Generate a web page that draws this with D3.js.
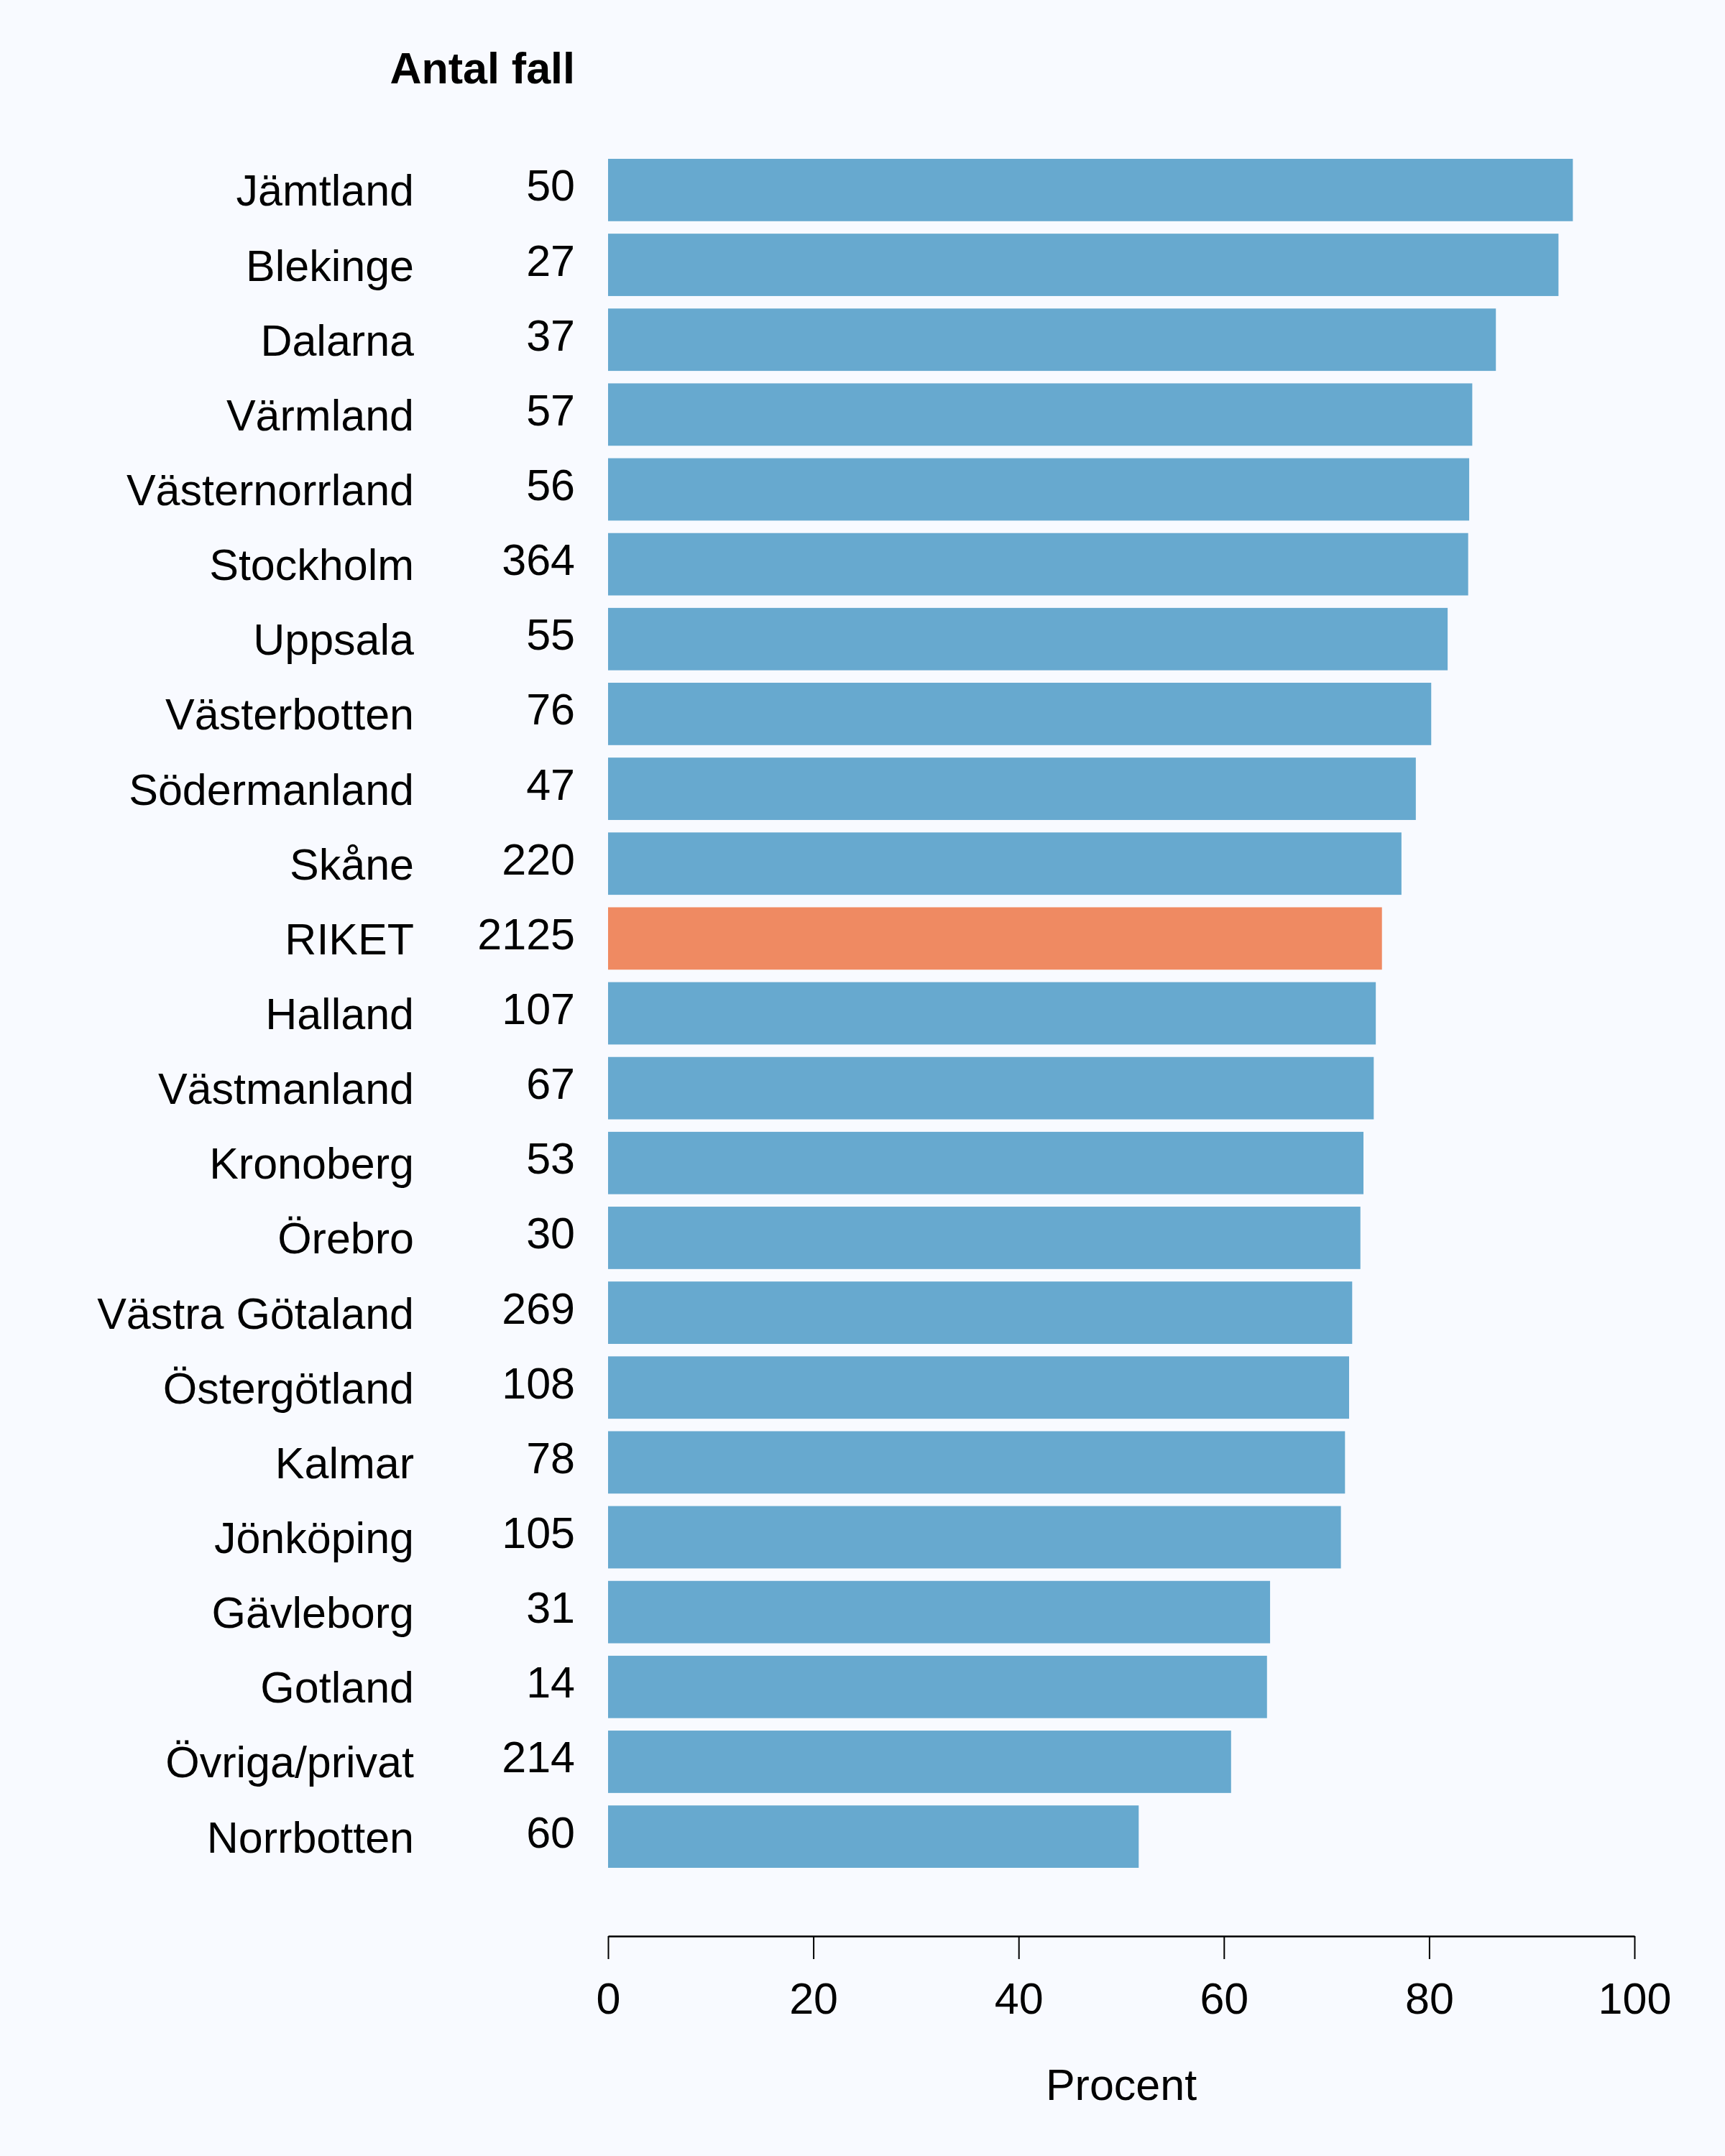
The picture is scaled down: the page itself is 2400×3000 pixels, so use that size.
<!DOCTYPE html>
<html>
<head>
<meta charset="utf-8">
<script src="https://cdn.jsdelivr.net/npm/d3@7"></script>
<style>
  html, body { margin: 0; padding: 0; background: #F8FAFF; }
  svg { display: block; }
  text { font-family: "Liberation Sans", Arial, Helvetica, sans-serif; fill: #000; }
</style>
</head>
<body>
<script>
const regions = ["Jämtland","Blekinge","Dalarna","Värmland","Västernorrland","Stockholm","Uppsala","Västerbotten","Södermanland","Skåne","RIKET","Halland","Västmanland","Kronoberg","Örebro","Västra Götaland","Östergötland","Kalmar","Jönköping","Gävleborg","Gotland","Övriga/privat","Norrbotten"];
const percent = [94.0, 92.6, 86.5, 84.2, 83.9, 83.8, 81.8, 80.2, 78.7, 77.3, 75.4, 74.8, 74.6, 73.6, 73.3, 72.5, 72.2, 71.8, 71.4, 64.5, 64.2, 60.7, 51.7];
const counts = [50, 27, 37, 57, 56, 364, 55, 76, 47, 220, 2125, 107, 67, 53, 30, 269, 108, 78, 105, 31, 14, 214, 60];
const xTicks = [0, 20, 40, 60, 80, 100];
const highlight = "RIKET";

const W = 2400, H = 3000;
const FS = 61;
const svg = d3.select("body").append("svg").attr("width", W).attr("height", H);
svg.append("rect").attr("width", W).attr("height", H).attr("fill", "#F8FAFF");

const x = d3.scaleLinear().domain([0, 100]).range([846, 2274]);
const y = d3.scaleBand().domain(regions).range([221, 2599]).paddingInner(1/6).paddingOuter(0);

const data = regions.map((r, i) => ({ region: r, pct: percent[i], n: counts[i] }));

svg.append("g").selectAll("rect").data(data).join("rect")
  .attr("x", x(0))
  .attr("y", d => y(d.region))
  .attr("width", d => x(d.pct) - x(0))
  .attr("height", y.bandwidth())
  .attr("fill", d => d.region === highlight ? "#EF8A62" : "#67A9CF");

// region names
svg.append("g").selectAll("text").data(data).join("text")
  .attr("x", 576)
  .attr("y", d => y(d.region) + y.bandwidth() / 2 + 22)
  .attr("text-anchor", "end")
  .attr("font-size", FS)
  .text(d => d.region);

// counts
svg.append("g").selectAll("text").data(data).join("text")
  .attr("x", 800)
  .attr("y", d => y(d.region) + y.bandwidth() / 2 + 15)
  .attr("text-anchor", "end")
  .attr("font-size", FS)
  .text(d => d.n);

svg.append("text")
  .attr("x", 800).attr("y", 116)
  .attr("text-anchor", "end")
  .attr("font-size", FS)
  .attr("font-weight", "bold")
  .text("Antal fall");

// x axis
const axisY = 2694;
const axis = d3.axisBottom(x).tickValues(xTicks).tickSize(32).tickSizeOuter(0).tickPadding(33).tickFormat(d3.format("d"));
const gx = svg.append("g").attr("transform", `translate(0,${axisY})`).call(axis);
gx.select(".domain").attr("stroke", "#000").attr("stroke-width", 2.5);
gx.selectAll(".tick line").attr("stroke", "#000").attr("stroke-width", 2);
gx.selectAll(".tick text").attr("font-size", FS).attr("font-family", "Liberation Sans, Arial, Helvetica, sans-serif").attr("fill", "#000");

svg.append("text")
  .attr("x", (x(0) + x(100)) / 2).attr("y", 2922)
  .attr("text-anchor", "middle")
  .attr("font-size", FS)
  .text("Procent");
</script>
</body>
</html>
